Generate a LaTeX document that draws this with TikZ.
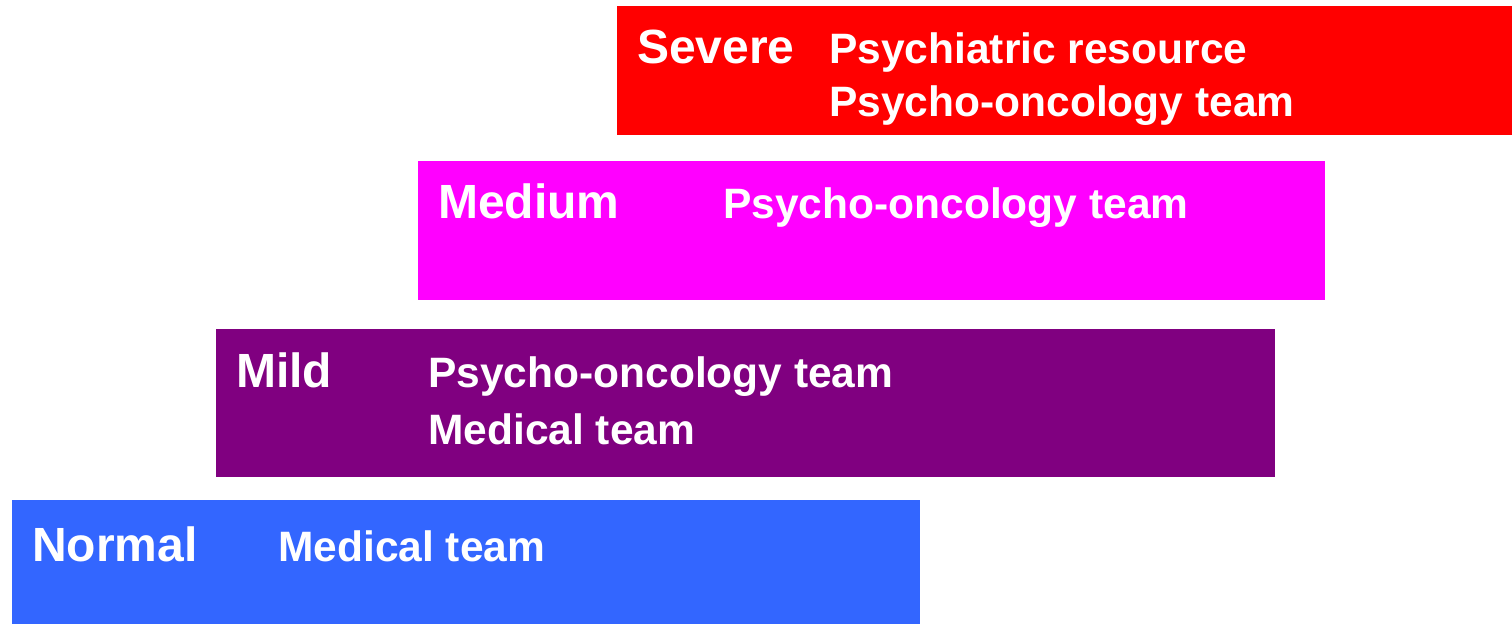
\documentclass[tikz,border=0pt]{standalone}
\usepackage{fontspec}
\setmainfont{Liberation Sans}
\definecolor{cSevere}{HTML}{FF0000}
\definecolor{cMedium}{HTML}{FF00FF}
\definecolor{cMild}{HTML}{800080}
\definecolor{cNormal}{HTML}{3366FF}
\tikzset{
  lvl/.style={anchor=base west,inner sep=0pt,text=white,font=\fontsize{48}{50}\selectfont\bfseries},
  res/.style={anchor=base west,inner sep=0pt,text=white,font=\fontsize{42.5}{45}\selectfont\bfseries}
}
\begin{document}
\begin{tikzpicture}[x=1pt,y=-1pt]
\useasboundingbox (0,0) rectangle (1512,624);
% bands
\fill[cSevere] (617,6) rectangle (1512,135);
\fill[cMedium] (418,161) rectangle (1325,300);
\fill[cMild] (216,329) rectangle (1275,477);
\fill[cNormal] (12,500) rectangle (920,624);
% Severe
\node[lvl] (sev) at (637,63) {Severe};
\node[res] (sev1) at (829,63) {Psychiatric resource};
\node[res] (sev2) at (829,116) {Psycho-oncology team};
% Medium
\node[lvl] (med) at (438,218) {Medium};
\node[res] (med1) at (723,218) {Psycho-oncology team};
% Mild
\node[lvl] (mild) at (236,387) {Mild};
\node[res] (mild1) at (428,387) {Psycho-oncology team};
\node[res] (mild2) at (428,444) {Medical team};
% Normal
\node[lvl] (norm) at (32,561) {Normal};
\node[res] (norm1) at (278,561) {Medical team};
\end{tikzpicture}
\end{document}
